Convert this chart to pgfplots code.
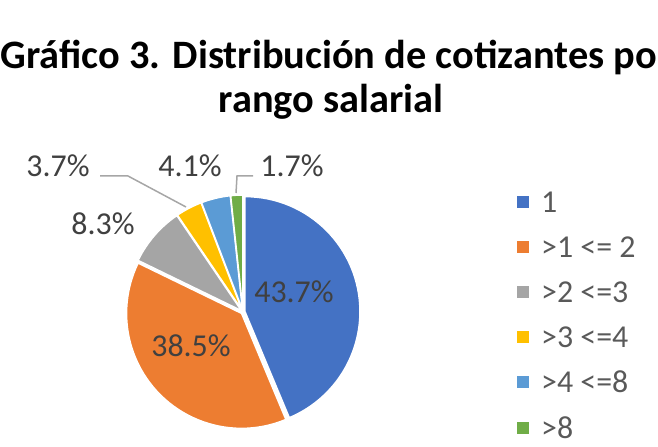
\documentclass[border=0pt]{standalone}
\usepackage{fontspec}
\setmainfont{Carlito}
\usepackage{pgfplots}
\usepackage{pgfplotstable}
\pgfplotsset{compat=1.18}

\definecolor{pie0}{HTML}{4472C4}
\definecolor{pie1}{HTML}{ED7D31}
\definecolor{pie2}{HTML}{A5A5A5}
\definecolor{pie3}{HTML}{FFC000}
\definecolor{pie4}{HTML}{5B9BD5}
\definecolor{pie5}{HTML}{70AD47}
\definecolor{labtext}{HTML}{404040}
\definecolor{legtext}{HTML}{595959}
\definecolor{leader}{HTML}{A6A6A6}

% share of contributors by wage band (%)
\pgfplotstableread[col sep=semicolon]{
label;value
1;43.7
>1 <= 2;38.5
>2 <=3;8.3
>3 <=4;3.7
>4 <=8;4.1
>8;1.7
}\piedata

\begin{document}
\begin{tikzpicture}
% slice angles, clockwise from the top
\pgfplotstablegetrowsof{\piedata}
\pgfmathtruncatemacro\lastrow{\pgfplotsretval-1}
\gdef\acc{90}
\foreach \i in {0,...,\lastrow}{
  \pgfplotstablegetelem{\i}{value}\of\piedata
  \pgfmathsetmacro\sweep{3.6*\pgfplotsretval}
  \pgfmathsetmacro\stp{\acc-\sweep}
  \pgfmathsetmacro\md{\acc-\sweep/2}
  \expandafter\xdef\csname pa\i\endcsname{\acc}
  \expandafter\xdef\csname pb\i\endcsname{\stp}
  \expandafter\xdef\csname pm\i\endcsname{\md}
  \xdef\acc{\stp}
}
\def\cx{243}\def\cy{135}\def\R{115bp}\def\ex{2bp}
\begin{axis}[
  anchor=origin, at={(0,0)},
  width=658bp, height=447bp, scale only axis,
  xmin=0, xmax=658, ymin=0, ymax=447,
  hide axis, clip=false,
  legend image code/.code={\fill[#1] (0bp,-7bp) rectangle (12bp,5bp); \path (24bp,0bp);},
  legend style={at={(axis cs:517,258)}, anchor=north west,
    draw=none, fill=none, inner sep=0pt,
    font=\fontsize{32}{38}\selectfont, text=legtext,
    row sep=22.2bp, cells={anchor=west},
    nodes={inner sep=0pt, text height=23bp, text depth=0bp}},
]
\pgfplotsinvokeforeach{0,...,5}{
  \fill[pie#1, draw=white, line width=1.5bp, shift={(\csname pm#1\endcsname:\ex)}]
    (axis cs:\cx,\cy) -- ++(\csname pa#1\endcsname:\R)
    arc[start angle=\csname pa#1\endcsname, end angle=\csname pb#1\endcsname, radius=\R]
    -- cycle;
  \addlegendimage{fill=pie#1, draw=none}
  \pgfplotstablegetelem{#1}{label}\of\piedata
  \addlegendentryexpanded{\pgfplotsretval}
}
% leader lines
\draw[leader, line width=1.5bp] (axis cs:100,271) -- (axis cs:128,271) -- (axis cs:186,240);
\draw[leader, line width=1.5bp] (axis cs:253,271) -- (axis cs:237,271) -- (axis cs:236,254);
% data labels
\begin{scope}[every node/.style={text=labtext, font=\fontsize{32}{38}\selectfont, inner sep=0pt, anchor=base}]
\node at (axis cs:294,144) {43.7\%};
\node at (axis cs:191,90) {38.5\%};
\node at (axis cs:103,212) {8.3\%};
\node at (axis cs:58,270) {3.7\%};
\node at (axis cs:190,270) {4.1\%};
\node at (axis cs:292,270) {1.7\%};
\end{scope}
% title
\node[font=\bfseries\fontsize{40.5}{48}\selectfont, anchor=base west, inner sep=0pt] at (axis cs:0.5,378) {Gráfico 3. Distribución de cotizantes por};
\node[font=\bfseries\fontsize{40.5}{48}\selectfont, anchor=base, inner sep=0pt] at (axis cs:331,334) {rango salarial};
\end{axis}
\pgfresetboundingbox
\path[use as bounding box] (0,0) rectangle (658bp,447bp);
\end{tikzpicture}
\end{document}
